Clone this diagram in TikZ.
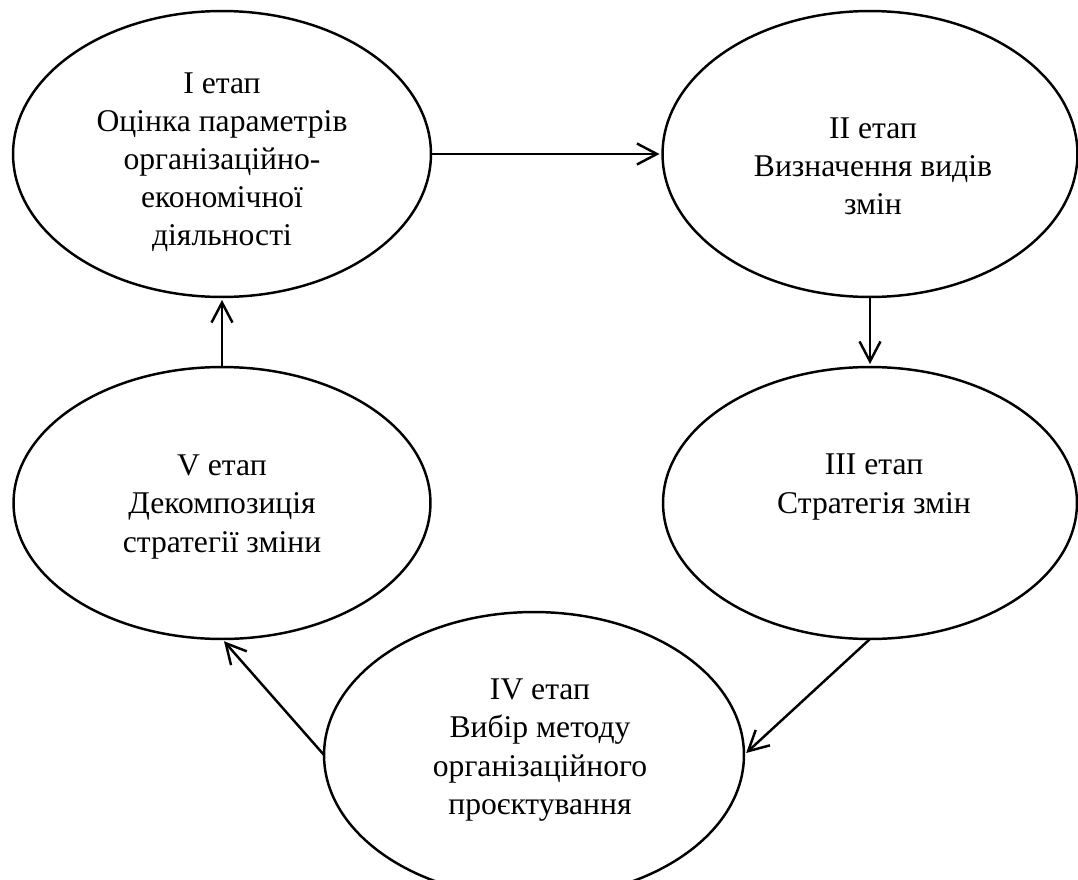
\documentclass[tikz,border=0pt]{standalone}
\usepackage{fontspec}
\setmainfont{Liberation Serif}
\usetikzlibrary{shapes.geometric,arrows.meta}
\begin{document}
\begin{tikzpicture}[x=0.02cm,y=-0.02cm,
  etap/.style={draw,ellipse,line width=1.4pt,inner sep=0pt,outer sep=0pt},
  texte/.style={align=center,inner sep=0pt,font=\fontsize{18}{21.7}\selectfont},
  fleche/.style={-{Straight Barb[length=4mm,width=4.2mm]},line width=1.4pt,shorten >=0.06cm}]
\useasboundingbox (0,0) rectangle (1078,879);
\node[etap,minimum width=8.36cm,minimum height=5.72cm] (e1) at (222,154) {};
\node[etap,minimum width=8.3cm,minimum height=5.72cm] (e2) at (870,154) {};
\node[etap,minimum width=8.28cm,minimum height=5.44cm] (e3) at (870,503) {};
\node[etap,minimum width=8.4cm,minimum height=5.72cm] (e4) at (534,755) {};
\node[etap,minimum width=8.34cm,minimum height=5.44cm] (e5) at (222,503) {};
\node[texte] (t1) at (222,162) {I етап\\Оцінка параметрів\\організаційно-\\економічної\\діяльності};
\node[texte] (t2) at (873,166) {II етап\\Визначення видів\\змін};
\node[texte] (t3) at (874,487) {III етап\\Стратегія змін};
\node[texte] (t4) at (540,750) {IV етап\\Вибір методу\\організаційного\\проєктування};
\node[texte] (t5) at (222,507) {V етап\\Декомпозиція\\стратегії зміни};
\draw[fleche] (e1) -- (e2);
\draw[fleche] (e2) -- (e3);
\draw[fleche] (e3.south) -- (e4.east);
\draw[fleche] (e4.west) -- (e5.south);
\draw[fleche] (e5) -- (e1);
\end{tikzpicture}
\end{document}
